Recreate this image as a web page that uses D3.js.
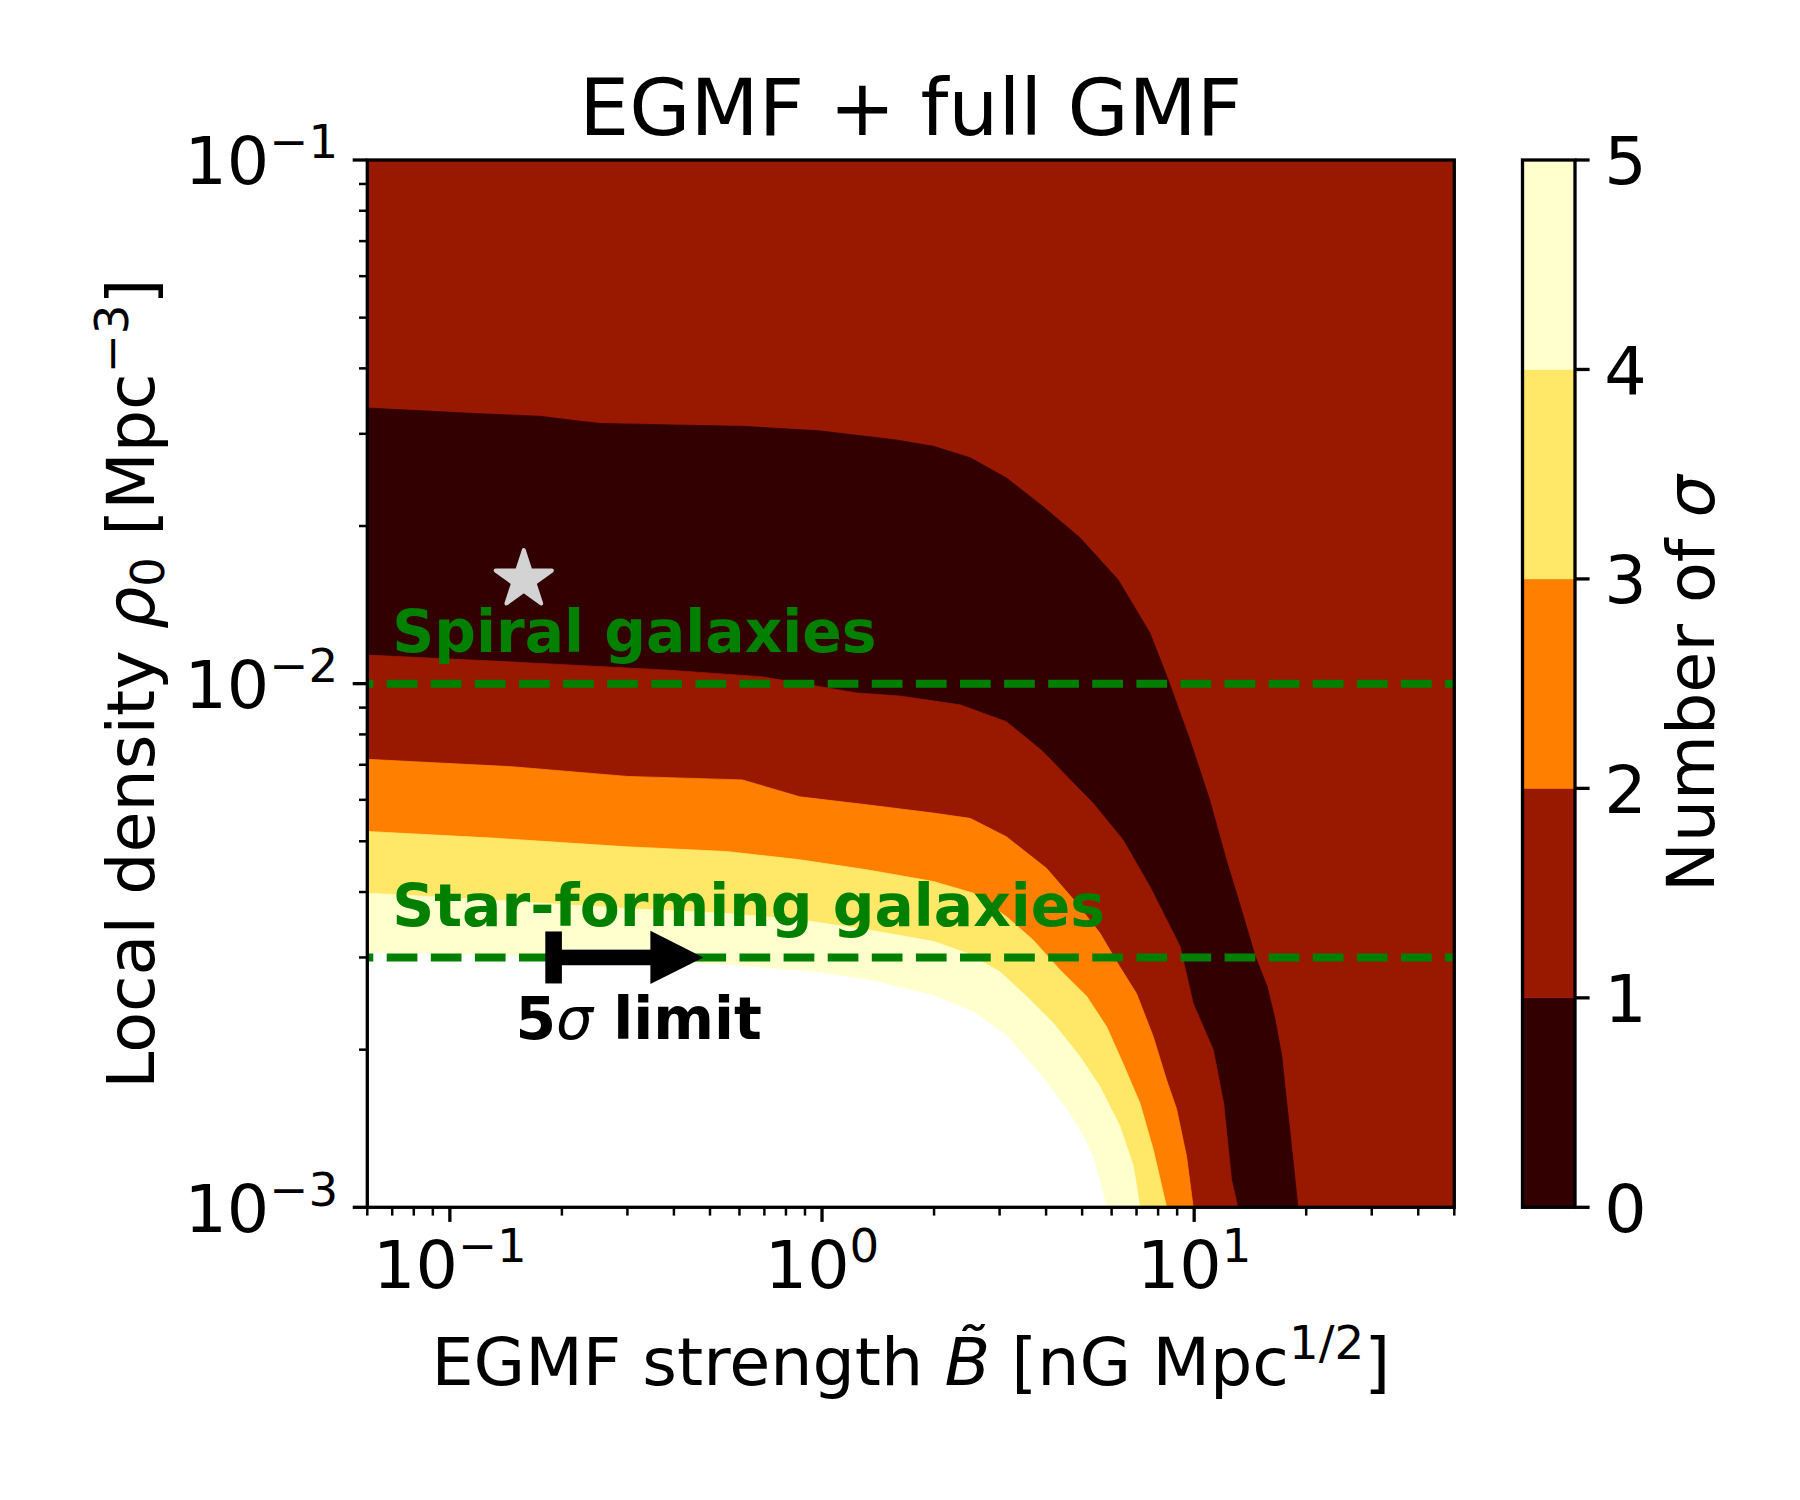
<!DOCTYPE html>
<html>
<head>
<meta charset="utf-8">
<script src="https://cdn.jsdelivr.net/npm/d3@7"></script>
<style>
  html, body { margin: 0; padding: 0; background: #fff; }
  svg { display: block; font-family: "DejaVu Sans", sans-serif; }
</style>
</head>
<body>
<svg id="chart" width="1800" height="1500"></svg>
<script>
// contour boundaries, points are [B, rho]
// each one runs from the left edge of the plot down to the bottom edge
const sigma1Upper = [
  [0.06, 0.0336], [0.117, 0.0328], [0.175, 0.0324], [0.224, 0.0317], [0.254, 0.0314],
  [0.390, 0.0312], [0.611, 0.0310], [0.980, 0.0304], [1.58, 0.0292], [1.99, 0.0284],
  [2.50, 0.0270], [3.13, 0.0247], [3.92, 0.0218], [4.93, 0.0190], [6.24, 0.0158],
  [7.60, 0.0125], [8.50, 0.0102], [9.74, 0.0078], [11.0, 0.0060], [12.2, 0.0046],
  [13.1, 0.0039], [14.6, 0.00301], [15.7, 0.00264], [16.5, 0.00228], [17.2, 0.00194],
  [17.7, 0.00160], [18.3, 0.00129], [19.0, 0.001]
];
const sigma1Lower = [
  [0.06, 0.01134], [0.147, 0.0110], [0.380, 0.01062], [0.688, 0.01031], [1.24, 0.0096],
  [1.62, 0.00947], [2.35, 0.00911], [3.13, 0.00846], [3.92, 0.00742], [4.93, 0.00627],
  [5.35, 0.00591], [6.44, 0.00503], [7.60, 0.00410], [9.16, 0.00315], [9.94, 0.00245],
  [11.25, 0.00200], [12.0, 0.00158], [12.6, 0.00113], [13.1, 0.001]
];
const sigma2 = [
  [0.06, 0.00717], [0.147, 0.00694], [0.300, 0.00665], [0.611, 0.00655], [0.871, 0.00608],
  [1.32, 0.00587], [1.99, 0.00566], [2.50, 0.00553], [3.13, 0.00510], [4.01, 0.00444],
  [4.83, 0.00381], [5.58, 0.00334], [6.31, 0.00288], [7.00, 0.00256], [7.76, 0.00212],
  [8.43, 0.00175], [8.97, 0.00154], [9.54, 0.00125], [9.94, 0.001]
];
const sigma3 = [
  [0.06, 0.00522], [0.1305, 0.00507], [0.298, 0.00488], [0.553, 0.00478], [0.871, 0.00461],
  [1.32, 0.00441], [1.99, 0.00419], [2.55, 0.00398], [3.13, 0.00359], [3.69, 0.00324],
  [4.36, 0.00284], [5.14, 0.00253], [5.82, 0.00221], [6.44, 0.00188], [7.15, 0.00158],
  [7.76, 0.00129], [8.43, 0.001]
];
const sigma4 = [
  [0.06, 0.00398], [0.1305, 0.00386], [0.298, 0.00372], [0.553, 0.00364], [0.871, 0.00354],
  [1.32, 0.00339], [1.99, 0.00322], [2.44, 0.00306], [3.00, 0.00282], [3.54, 0.00253],
  [4.18, 0.00225], [4.93, 0.00194], [5.58, 0.00170], [6.31, 0.00143], [6.86, 0.00120],
  [7.15, 0.001]
];
const sigma5 = [
  [0.06, 0.00306], [0.1305, 0.00303], [0.298, 0.00297], [0.553, 0.00290], [0.927, 0.00282],
  [1.32, 0.00272], [1.99, 0.00254], [2.55, 0.00236], [3.13, 0.00213], [3.85, 0.00180],
  [4.54, 0.00154], [5.03, 0.00137], [5.35, 0.00125], [5.82, 0.001]
];

const sigmaLevels = [0, 1, 2, 3, 4, 5];
const xMajorTicks = [0.1, 1, 10];
const yMajorTicks = [0.001, 0.01, 0.1];
const galaxyLines = [
  { rho: 0.01, labelRho: 0.0115, label: "Spiral galaxies" },
  { rho: 0.003, labelRho: 0.00345, label: "Star-forming galaxies" }
];
const bestFit = [0.158, 0.0158];
const limitArrow = { from: 0.19, to: 0.48, rho: 0.003 };
const limitLabel = { B: 0.15, rho: 0.0021 };

// afmhot sampled at the band midpoints
const bandColors = ["#320000", "#981800", "#ff8000", "#ffe767", "#ffffcd"];

const svg = d3.select("#chart");
const L = 367.3, R = 1454.3, T = 160, B = 1207.3;
const fsTick = 66.7, fsLabel = 66.7, fsTitle = 79, fsNote = 58.3;

const x = d3.scaleLog().domain([0.06, 50]).range([L, R]);
const y = d3.scaleLog().domain([0.001, 0.1]).range([B, T]);

svg.append("clipPath").attr("id", "plot-clip")
  .append("rect").attr("x", L).attr("y", T).attr("width", R - L).attr("height", B - T);

const plot = svg.append("g").attr("clip-path", "url(#plot-clip)");
const line = d3.line().x((d) => x(d[0])).y((d) => y(d[1]));

plot.append("rect")
  .attr("x", L).attr("y", T).attr("width", R - L).attr("height", B - T)
  .attr("fill", bandColors[1]);

// region below/left of each boundary, painted from the outside in
[
  { pts: sigma1Upper, fill: bandColors[0] },
  { pts: sigma1Lower, fill: bandColors[1] },
  { pts: sigma2, fill: bandColors[2] },
  { pts: sigma3, fill: bandColors[3] },
  { pts: sigma4, fill: bandColors[4] },
  { pts: sigma5, fill: "#ffffff" }
].forEach((c) => {
  plot.append("path")
    .attr("d", line(c.pts.concat([[0.06, 0.001]])) + "Z")
    .attr("fill", c.fill)
    .attr("stroke", c.fill)
    .attr("stroke-width", 0.8);
});

galaxyLines.forEach((g) => {
  plot.append("line")
    .attr("x1", L).attr("x2", R)
    .attr("y1", y(g.rho)).attr("y2", y(g.rho))
    .attr("stroke", "#008000")
    .attr("stroke-width", 8)
    .attr("stroke-dasharray", "30.7 13.4")
    .attr("stroke-dashoffset", 24.7);
});

// best fit star
const starR = 29.5;
const star = d3.lineRadial()
  .angle((d) => d * Math.PI / 5)
  .radius((d) => (d % 2 === 0 ? starR : starR * 0.381966))
  .curve(d3.curveLinearClosed);
plot.append("path")
  .attr("transform", `translate(${x(bestFit[0])},${y(bestFit[1])})`)
  .attr("d", star(d3.range(10)))
  .attr("fill", "#d3d3d3")
  .attr("stroke", "#d3d3d3")
  .attr("stroke-width", 4)
  .attr("stroke-linejoin", "round");

galaxyLines.forEach((g) => {
  svg.append("text")
    .attr("x", x(0.07))
    .attr("y", y(g.labelRho))
    .attr("font-size", fsNote)
    .attr("font-weight", "bold")
    .attr("fill", "#008000")
    .text(g.label);
});

// 5 sigma limit arrow
const ax0 = x(limitArrow.from), ax1 = x(limitArrow.to), ay = y(limitArrow.rho);
const headLen = 53, headHalf = 26.6, shaftHalf = 7.8, barHalfW = 8.3, barHalfH = 26;
svg.append("rect")
  .attr("x", ax0 - barHalfW).attr("y", ay - barHalfH)
  .attr("width", 2 * barHalfW).attr("height", 2 * barHalfH)
  .attr("fill", "#000");
svg.append("rect")
  .attr("x", ax0).attr("y", ay - shaftHalf)
  .attr("width", ax1 - headLen - ax0 + 1).attr("height", 2 * shaftHalf)
  .attr("fill", "#000");
svg.append("path")
  .attr("d", `M${ax1 - headLen},${ay - headHalf}L${ax1},${ay}L${ax1 - headLen},${ay + headHalf}Z`)
  .attr("fill", "#000");

const lim = svg.append("text")
  .attr("x", x(limitLabel.B))
  .attr("y", y(limitLabel.rho))
  .attr("font-size", fsNote)
  .attr("font-weight", "bold")
  .attr("fill", "#000");
lim.append("tspan").text("5");
lim.append("tspan").attr("font-style", "italic").attr("font-weight", "normal").text("σ");
lim.append("tspan").text(" limit");

// axes frame and ticks
const axes = svg.append("g");
axes.append("rect")
  .attr("x", L).attr("y", T).attr("width", R - L).attr("height", B - T)
  .attr("fill", "none").attr("stroke", "#000").attr("stroke-width", 3.3);

const isMajor = (v) => Math.abs(Math.log10(v) - Math.round(Math.log10(v))) < 1e-6;

x.ticks().forEach((v) => {
  const major = isMajor(v);
  axes.append("line")
    .attr("x1", x(v)).attr("x2", x(v))
    .attr("y1", B).attr("y2", B + (major ? 14.6 : 8.3))
    .attr("stroke", "#000").attr("stroke-width", major ? 3.3 : 2.5);
});
y.ticks().forEach((v) => {
  const major = isMajor(v);
  axes.append("line")
    .attr("x1", L).attr("x2", L - (major ? 14.6 : 8.3))
    .attr("y1", y(v)).attr("y2", y(v))
    .attr("stroke", "#000").attr("stroke-width", major ? 3.3 : 2.5);
});

function powerLabel(t, v) {
  const e = Math.round(Math.log10(v));
  t.append("tspan").text("10");
  t.append("tspan")
    .attr("dy", -0.39 * fsTick)
    .attr("font-size", 0.7 * fsTick)
    .text(e < 0 ? "\u2212" + -e : String(e));
}

xMajorTicks.forEach((v) => {
  const t = axes.append("text")
    .attr("x", x(v)).attr("y", 1288)
    .attr("text-anchor", "middle")
    .attr("font-size", fsTick);
  powerLabel(t, v);
});
yMajorTicks.forEach((v) => {
  const t = axes.append("text")
    .attr("x", L - 29.2).attr("y", y(v) + 0.365 * fsTick)
    .attr("text-anchor", "end")
    .attr("font-size", fsTick);
  powerLabel(t, v);
});

// title and axis labels
svg.append("text")
  .attr("x", (L + R) / 2).attr("y", 135)
  .attr("text-anchor", "middle")
  .attr("font-size", fsTitle)
  .text("EGMF + full GMF");

const xl = svg.append("text")
  .attr("x", (L + R) / 2).attr("y", 1385)
  .attr("text-anchor", "middle")
  .attr("font-size", fsLabel);
xl.append("tspan").text("EGMF strength ");
xl.append("tspan").attr("font-style", "italic").text("B\u0303");
xl.append("tspan").text(" [nG Mpc");
xl.append("tspan").attr("dy", -0.39 * fsLabel).attr("font-size", 0.7 * fsLabel).text("1/2");
xl.append("tspan").attr("dy", 0.39 * fsLabel).text("]");

const yl = svg.append("text")
  .attr("transform", `translate(153.5,${(T + B) / 2}) rotate(-90)`)
  .attr("text-anchor", "middle")
  .attr("font-size", fsLabel);
yl.append("tspan").text("Local density ");
yl.append("tspan").attr("font-style", "italic").text("ρ");
yl.append("tspan").attr("dy", 0.15 * fsLabel).attr("font-size", 0.7 * fsLabel).text("0");
yl.append("tspan").attr("dy", -0.15 * fsLabel).text(" [Mpc");
yl.append("tspan").attr("dy", -0.39 * fsLabel).attr("font-size", 0.7 * fsLabel).text("\u22123");
yl.append("tspan").attr("dy", 0.39 * fsLabel).text("]");

// colorbar
const CL = 1522.5, CR = 1575;
const cy = d3.scaleLinear().domain([0, 5]).range([B, T]);
const cbar = svg.append("g");
sigmaLevels.slice(0, -1).forEach((lv, i) => {
  cbar.append("rect")
    .attr("x", CL).attr("width", CR - CL)
    .attr("y", cy(lv + 1)).attr("height", cy(lv) - cy(lv + 1))
    .attr("fill", bandColors[i])
    .attr("stroke", bandColors[i]).attr("stroke-width", 0.5);
});
cbar.append("rect")
  .attr("x", CL).attr("y", T).attr("width", CR - CL).attr("height", B - T)
  .attr("fill", "none").attr("stroke", "#000").attr("stroke-width", 3.3);
sigmaLevels.forEach((lv) => {
  cbar.append("line")
    .attr("x1", CR).attr("x2", CR + 14.6)
    .attr("y1", cy(lv)).attr("y2", cy(lv))
    .attr("stroke", "#000").attr("stroke-width", 3.3);
  cbar.append("text")
    .attr("x", CR + 29.2).attr("y", cy(lv) + 0.365 * fsTick)
    .attr("font-size", fsTick)
    .text(lv);
});
const cl = svg.append("text")
  .attr("transform", `translate(1714,${(T + B) / 2}) rotate(-90)`)
  .attr("text-anchor", "middle")
  .attr("font-size", fsLabel);
cl.append("tspan").text("Number of ");
cl.append("tspan").attr("font-style", "italic").text("σ");
</script>
</body>
</html>
